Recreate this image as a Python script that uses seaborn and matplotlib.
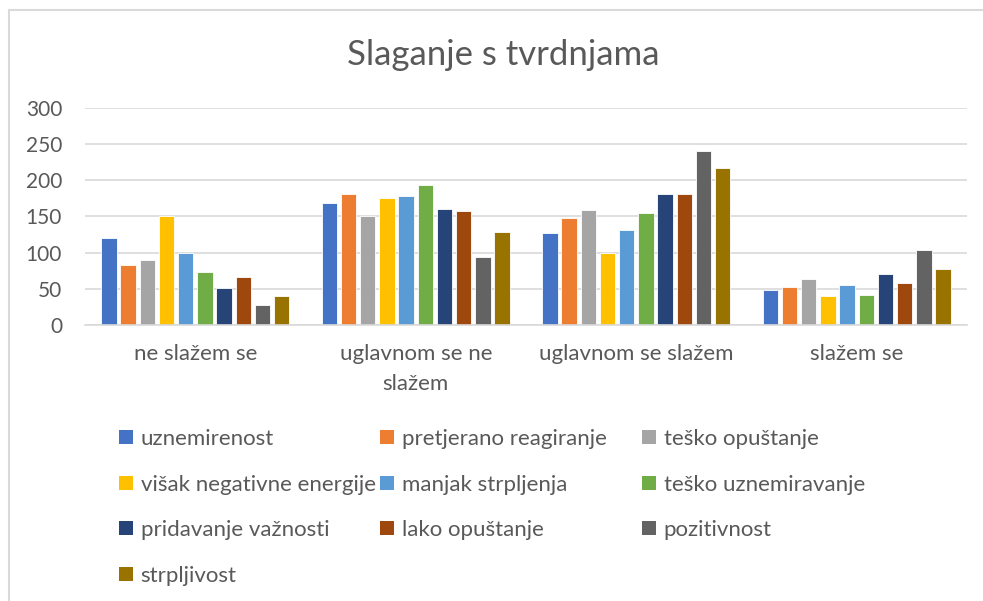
import numpy as np
import pandas as pd
import seaborn as sns
from matplotlib import pyplot as plt
from matplotlib.lines import Line2D
from matplotlib.patches import Patch

categories = ["ne slažem se", "uglavnom se ne\nslažem", "uglavnom se slažem", "slažem se"]
series = ["uznemirenost", "pretjerano reagiranje", "teško opuštanje",
          "višak negativne energije", "manjak strpljenja", "teško uznemiravanje",
          "pridavanje važnosti", "lako opuštanje", "pozitivnost", "strpljivost"]

uznemirenost = [120, 168, 127, 49]
pretjerano_reagiranje = [83, 181, 148, 52]
tesko_opustanje = [90, 150, 159, 64]
visak_negativne_energije = [150, 175, 99, 40]
manjak_strpljenja = [100, 178, 131, 55]
tesko_uznemiravanje = [73, 193, 155, 42]
pridavanje_vaznosti = [51, 161, 181, 70]
lako_opustanje = [67, 157, 181, 58]
pozitivnost = [27, 94, 240, 103]
strpljivost = [40, 128, 217, 77]

colors = ["#4472C4", "#ED7D31", "#A5A5A5", "#FFC000", "#5B9BD5",
          "#70AD47", "#264478", "#9E480E", "#636363", "#997300"]

values = [uznemirenost, pretjerano_reagiranje, tesko_opustanje, visak_negativne_energije,
          manjak_strpljenja, tesko_uznemiravanje, pridavanje_vaznosti, lako_opustanje,
          pozitivnost, strpljivost]

df = pd.DataFrame({
    "kategorija": np.tile(categories, len(series)),
    "serija": np.repeat(series, len(categories)),
    "broj": np.concatenate(values),
})

sns.set_theme(style="white")
plt.rcParams["font.family"] = ["Lato", "DejaVu Sans"]
text_col = "#595959"

fig = plt.figure(figsize=(9.83, 6.01), dpi=100)
W, H = 983, 601
ax = fig.add_axes([85 / W, 1 - 325 / H, (967 - 85) / W, (325 - 108) / H])

sns.barplot(data=df, x="kategorija", y="broj", hue="serija", hue_order=series,
            order=categories, palette=colors, saturation=1, width=0.87, gap=0.2,
            edgecolor="white", linewidth=0.6, legend=False, ax=ax)

ax.set_ylim(0, 300)
ax.set_yticks(range(0, 301, 50))
ax.set_xlim(-0.5, 3.5)
ax.yaxis.grid(True, color="#D9D9D9", linewidth=1.2)
ax.set_axisbelow(True)
for s in ["left", "right", "top"]:
    ax.spines[s].set_visible(False)
ax.spines["bottom"].set_color("#D9D9D9")
ax.spines["bottom"].set_linewidth(1.2)
ax.tick_params(axis="y", length=0, labelsize=15, colors=text_col, pad=16.5)
ax.tick_params(axis="x", length=0, labelsize=16, colors=text_col, pad=14)
ax.set_xlabel("")
ax.set_ylabel("")
for lbl in ax.get_xticklabels():
    lbl.set_linespacing(1.6)

fig.text(503 / W, 1 - 55 / H, "Slaganje s tvrdnjama", ha="center", va="center",
         fontsize=25, color=text_col)

# legend: three columns like Excel
col_x = [119, 380, 642]
cols = [[0, 3, 6, 9], [1, 4, 7], [2, 5, 8]]
for cx, idx in zip(col_x, cols):
    handles = [Patch(facecolor=colors[i], edgecolor="none") for i in idx]
    fig.legend(handles, [series[i] for i in idx], loc="upper left",
               bbox_to_anchor=(cx / W, 1 - 429 / H), frameon=False,
               fontsize=16, labelcolor=text_col, handlelength=0.62,
               handleheight=0.62, handletextpad=0.35, labelspacing=1.15,
               borderpad=0, borderaxespad=0)

# chart border (top and left edges visible)
fig.add_artist(Line2D([9 / W, 9 / W], [0, 1 - 10 / H], color="#D9D9D9", linewidth=1.5))
fig.add_artist(Line2D([9 / W, 1], [1 - 10 / H, 1 - 10 / H], color="#D9D9D9", linewidth=1.5))

fig.savefig("out.png", dpi=100)
